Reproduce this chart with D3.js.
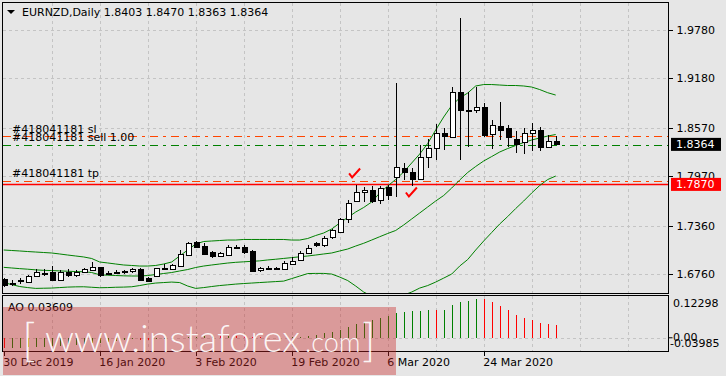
<!DOCTYPE html>
<html>
<head>
<meta charset="utf-8">
<style>
  body { margin: 0; background: #e6e6e6; }
  svg { display: block; font-family: "DejaVu Sans", sans-serif; font-size: 11px; }
  .grid { stroke: #c4c4c4; stroke-dasharray: 3,3; shape-rendering: crispEdges; }
  .frame { fill: none; stroke: #000; shape-rendering: crispEdges; }
  .axis path { display: none; }
  .axis line { stroke: #000; shape-rendering: crispEdges; }
  .axis text { fill: #000; font-family: "DejaVu Sans", sans-serif; font-size: 11px; }
</style>
</head>
<body>
<div id="chart"></div>
<script src="https://d3js.org/d3.v7.min.js"></script>
<script>
// EURNZD daily, 30 Dec 2019 .. 6 Apr 2020 (70 bars)
var open = [1.6699,1.6650,1.6685,1.6671,1.6731,1.6773,1.6785,1.6690,1.6785,1.6743,
  1.6785,1.6813,1.6847,1.6778,1.6783,1.6798,1.6792,1.6826,1.6718,1.6731,
  1.6833,1.6822,1.6866,1.7007,1.7159,1.7110,1.7032,1.6978,1.7007,1.7090,
  1.7101,1.7052,1.6805,1.6833,1.6835,1.6834,1.6896,1.6937,1.7019,1.7143,
  1.7114,1.7215,1.7286,1.7440,1.7669,1.7773,1.7801,1.7678,1.7834,1.7953,
  1.8069,1.8027,1.7937,1.8205,1.8316,1.8501,1.8452,1.9007,1.8786,1.8785,
  1.8826,1.8484,1.8591,1.8567,1.8427,1.8390,1.8501,1.8542,1.8336,1.8403];
var high = [1.6720,1.6690,1.6711,1.6752,1.6822,1.6822,1.6863,1.6813,1.6822,1.6810,
  1.6835,1.6916,1.6854,1.6804,1.6810,1.6816,1.6835,1.6835,1.6730,1.6841,
  1.6891,1.6891,1.7060,1.7160,1.7170,1.7143,1.7052,1.7032,1.7122,1.7122,
  1.7118,1.7060,1.6854,1.6860,1.6854,1.6928,1.6978,1.7052,1.7122,1.7163,
  1.7233,1.7316,1.7455,1.7677,1.7863,1.7834,1.7850,1.7850,1.7863,1.9126,
  1.8131,1.8069,1.8357,1.8427,1.8616,1.8563,1.9076,1.9921,1.9015,1.9076,
  1.8871,1.8665,1.8887,1.8604,1.8529,1.8563,1.8632,1.8583,1.8480,1.8470];
var low = [1.6604,1.6620,1.6640,1.6660,1.6723,1.6735,1.6685,1.6680,1.6727,1.6723,
  1.6773,1.6800,1.6727,1.6748,1.6760,1.6760,1.6773,1.6680,1.6662,1.6727,
  1.6816,1.6810,1.6855,1.6995,1.7090,1.6999,1.6958,1.6970,1.6986,1.7072,
  1.7013,1.6805,1.6785,1.6810,1.6810,1.6810,1.6875,1.6928,1.7007,1.7101,
  1.7094,1.7192,1.7270,1.7398,1.7657,1.7657,1.7644,1.7628,1.7678,1.7718,
  1.7925,1.7850,1.7925,1.8069,1.8172,1.8295,1.8440,1.8171,1.8328,1.8748,
  1.8459,1.8311,1.8418,1.8328,1.8254,1.8242,1.8286,1.8286,1.8316,1.8363];
var close = [1.6628,1.6646,1.6670,1.6740,1.6785,1.6777,1.6690,1.6792,1.6752,1.6785,
  1.6826,1.6854,1.6752,1.6773,1.6786,1.6780,1.6822,1.6690,1.6681,1.6835,
  1.6835,1.6875,1.7010,1.7151,1.7101,1.7015,1.6978,1.7019,1.7101,1.7094,
  1.7039,1.6805,1.6835,1.6837,1.6817,1.6904,1.6928,1.7019,1.7085,1.7118,
  1.7205,1.7301,1.7443,1.7637,1.7780,1.7801,1.7669,1.7822,1.7731,1.8081,
  1.8015,1.7937,1.8205,1.8316,1.8501,1.8459,1.9007,1.8780,1.8772,1.8822,
  1.8480,1.8600,1.8545,1.8459,1.8369,1.8501,1.8542,1.8336,1.8406,1.8364];

// Bollinger bands
var bbUpper = [1.7060,1.7054,1.7048,1.7041,1.7035,1.7029,1.7023,1.7011,1.6998,1.6986,
  1.6974,1.6955,1.6912,1.6900,1.6887,1.6875,1.6869,1.6862,1.6862,1.6869,
  1.6887,1.6912,1.6986,1.7060,1.7134,1.7165,1.7171,1.7177,1.7183,1.7183,
  1.7190,1.7190,1.7190,1.7190,1.7190,1.7190,1.7183,1.7183,1.7202,1.7239,
  1.7270,1.7319,1.7393,1.7461,1.7529,1.7585,1.7653,1.7764,1.7850,1.7931,
  1.8023,1.8134,1.8245,1.8375,1.8542,1.8702,1.8844,1.8937,1.8998,1.9085,
  1.9103,1.9103,1.9097,1.9091,1.9091,1.9085,1.9072,1.9041,1.9002,1.8973];
var bbMid = [1.6846,1.6838,1.6830,1.6823,1.6815,1.6809,1.6806,1.6802,1.6798,1.6794,
  1.6791,1.6782,1.6754,1.6749,1.6745,1.6741,1.6739,1.6739,1.6745,1.6757,
  1.6770,1.6782,1.6801,1.6819,1.6844,1.6862,1.6875,1.6887,1.6899,1.6908,
  1.6914,1.6920,1.6926,1.6937,1.6946,1.6956,1.6966,1.6976,1.6986,1.6998,
  1.7011,1.7023,1.7048,1.7072,1.7109,1.7143,1.7183,1.7224,1.7264,1.7301,
  1.7369,1.7443,1.7517,1.7591,1.7665,1.7733,1.7825,1.7924,1.8017,1.8091,
  1.8159,1.8214,1.8270,1.8313,1.8350,1.8387,1.8418,1.8443,1.8467,1.8486];
var bbLower = [1.6658,1.6633,1.6609,1.6596,1.6586,1.6588,1.6590,1.6596,1.6602,1.6605,
  1.6606,1.6600,1.6594,1.6596,1.6600,1.6602,1.6606,1.6621,1.6639,1.6652,
  1.6658,1.6664,1.6658,1.6615,1.6586,1.6596,1.6609,1.6621,1.6630,1.6639,
  1.6646,1.6652,1.6658,1.6664,1.6670,1.6676,1.6707,1.6738,1.6769,1.6771,
  1.6771,1.6763,1.6726,1.6683,1.6615,1.6541,1.6491,1.6467,1.6461,1.6467,
  1.6504,1.6541,1.6590,1.6621,1.6664,1.6713,1.6763,1.6862,1.6942,1.7060,
  1.7171,1.7276,1.7381,1.7473,1.7572,1.7665,1.7764,1.7856,1.7930,1.7973];

// Awesome Oscillator
var ao = [-0.0300,-0.0290,-0.0285,-0.0280,-0.0272,-0.0262,-0.0250,-0.0238,-0.0222,-0.0205,
  -0.0185,-0.0160,-0.0138,-0.0115,-0.0090,-0.0068,-0.0048,-0.0052,-0.0058,-0.0049,
  -0.0038,-0.0030,-0.0012,0.0010,0.0030,0.0042,0.0050,0.0048,0.0052,0.0050,
  0.0046,0.0030,0.0015,0.0008,0.0002,0.0006,0.0018,0.0035,0.0060,0.0090,
  0.0130,0.0180,0.0240,0.0310,0.0390,0.0460,0.0520,0.0590,0.0640,0.0720,
  0.0760,0.0765,0.0780,0.0820,0.0800,0.0810,0.0940,0.1050,0.1080,0.1140,
  0.1120,0.1030,0.0910,0.0810,0.0670,0.0590,0.0520,0.0440,0.0410,0.03609];

var priceTicks = [1.9780, 1.9180, 1.8570, 1.7970, 1.7360, 1.6760];
var dateIdx = [0, 12, 24, 36, 48, 60];
var dateLabels = ["30 Dec 2019", "16 Jan 2020", "3 Feb 2020", "19 Feb 2020", "6 Mar 2020", "24 Mar 2020"];

var ticket = "#418041181";
var slPrice = 1.8470, entryPrice = 1.8362, tpPrice = 1.7916;
var hLinePrice = 1.7870, bidPrice = 1.8364;
var checkIdx = [43.8, 50.9];
var checkPrice = [1.8005, 1.7770];

var W = 726, H = 376;
var left = 2.5, right = 668.5, mainTop = 2.5, mainBot = 293.5, indTop = 295.5, indBot = 351.5;

var svg = d3.select('#chart').append('svg').attr('width', W).attr('height', H);

var x = d3.scaleLinear().domain([0, 69]).range([3.7, 555.7]);
var y = d3.scaleLinear().domain([1.978, 1.676]).range([29.7, 274.3]);
var yAO = d3.scaleLinear().domain([-0.03985, 0.12298]).range([indBot, indTop]);

var defs = svg.append('defs');
defs.append('clipPath').attr('id', 'clipMain').append('rect')
  .attr('x', left).attr('y', mainTop).attr('width', right - left).attr('height', mainBot - mainTop);
defs.append('clipPath').attr('id', 'clipInd').append('rect')
  .attr('x', left).attr('y', indTop).attr('width', right - left).attr('height', indBot - indTop);

// vertical grid every 6 bars
var vgrid = d3.range(6, 84, 6).filter(function(i) { return x(i) < right; });
var main = svg.append('g').attr('clip-path', 'url(#clipMain)');
main.selectAll('.vg').data(vgrid).enter().append('line').attr('class', 'grid')
  .attr('x1', function(d) { return Math.round(x(d)) + 0.5; }).attr('x2', function(d) { return Math.round(x(d)) + 0.5; })
  .attr('y1', mainTop).attr('y2', mainBot);
main.selectAll('.hg').data(priceTicks).enter().append('line').attr('class', 'grid')
  .attr('x1', left).attr('x2', right)
  .attr('y1', function(d) { return Math.round(y(d)) + 0.5; }).attr('y2', function(d) { return Math.round(y(d)) + 0.5; });

// order lines
function orderLine(p, col) {
  main.append('line').attr('x1', left).attr('x2', right)
    .attr('y1', Math.round(y(p)) + 0.5).attr('y2', Math.round(y(p)) + 0.5)
    .attr('stroke', col).attr('stroke-dasharray', '8,5,3,5').style('shape-rendering', 'crispEdges');
}
orderLine(slPrice, '#ff4500');
orderLine(entryPrice, '#008000');
orderLine(tpPrice, '#ff4500');
main.append('line').attr('x1', left).attr('x2', right)
  .attr('y1', y(hLinePrice)).attr('y2', y(hLinePrice))
  .attr('stroke', '#ff0000').attr('stroke-width', 1.5);

// order labels
var lbl = svg.append('g').attr('fill', '#000');
lbl.append('text').attr('x', 12).attr('y', y(slPrice) - 3).text(ticket + ' sl');
lbl.append('text').attr('x', 12).attr('y', y(entryPrice) - 4).text(ticket + ' sell 1.00');
lbl.append('text').attr('x', 12).attr('y', y(tpPrice) - 4).text(ticket + ' tp');

// bollinger bands
var bandLine = function(arr) {
  return d3.line().x(function(d, i) { return x(i); }).y(function(d) { return y(d); })(arr);
};
[bbUpper, bbMid, bbLower].forEach(function(b) {
  main.append('path').attr('d', bandLine(b)).attr('fill', 'none').attr('stroke', '#008000').attr('stroke-width', 1);
});

// candles
var idx = d3.range(open.length);
var cg = main.append('g').style('shape-rendering', 'crispEdges');
cg.selectAll('.wick').data(idx).enter().append('line')
  .attr('x1', function(i) { return Math.round(x(i)) + 0.5; })
  .attr('x2', function(i) { return Math.round(x(i)) + 0.5; })
  .attr('y1', function(i) { return y(high[i]); })
  .attr('y2', function(i) { return y(low[i]); })
  .attr('stroke', '#000');
cg.selectAll('.body').data(idx).enter().append('rect')
  .attr('x', function(i) { return Math.round(x(i)) - 2 + 0.5; })
  .attr('width', 5)
  .attr('y', function(i) { return Math.round(y(Math.max(open[i], close[i]))) + 0.5; })
  .attr('height', function(i) { return Math.max(1, Math.round(Math.abs(y(open[i]) - y(close[i])))); })
  .attr('fill', function(i) { return close[i] >= open[i] ? '#fff' : '#000'; })
  .attr('stroke', '#000');

// trade marks
svg.selectAll('.chk').data(checkIdx).enter().append('path')
  .attr('d', function(d, k) {
    var cx = x(d), cy = y(checkPrice[k]);
    return 'M' + (cx - 5) + ',' + (cy) + 'L' + (cx - 2) + ',' + (cy + 4) + 'L' + (cx + 6) + ',' + (cy - 5);
  })
  .attr('fill', 'none').attr('stroke', '#ff0000').attr('stroke-width', 2);

// AO panel
var ind = svg.append('g').attr('clip-path', 'url(#clipInd)');
ind.selectAll('.vg').data(vgrid).enter().append('line').attr('class', 'grid')
  .attr('x1', function(d) { return Math.round(x(d)) + 0.5; }).attr('x2', function(d) { return Math.round(x(d)) + 0.5; })
  .attr('y1', indTop).attr('y2', indBot);
ind.append('line').attr('class', 'grid').attr('x1', left).attr('x2', right)
  .attr('y1', Math.round(yAO(0)) + 0.5).attr('y2', Math.round(yAO(0)) + 0.5);
ind.selectAll('.aob').data(idx).enter().append('line')
  .attr('x1', function(i) { return Math.round(x(i)) + 0.5; })
  .attr('x2', function(i) { return Math.round(x(i)) + 0.5; })
  .attr('y1', yAO(0))
  .attr('y2', function(i) { return yAO(ao[i]); })
  .attr('stroke', function(i) { return (i > 0 && ao[i] < ao[i - 1]) || i === 0 ? '#ff0000' : '#008000'; })
  .style('shape-rendering', 'crispEdges');

// frames
svg.append('rect').attr('class', 'frame').attr('x', left).attr('y', mainTop).attr('width', right - left).attr('height', mainBot - mainTop);
svg.append('rect').attr('class', 'frame').attr('x', left).attr('y', indTop).attr('width', right - left).attr('height', indBot - indTop);

// right price axis
svg.append('g').attr('class', 'axis').attr('transform', 'translate(' + right + ',0)')
  .call(d3.axisRight(y).tickValues(priceTicks).tickFormat(d3.format('.4f')).tickSize(4).tickPadding(4));

// price tags
function tag(p, bg) {
  var g = svg.append('g').attr('transform', 'translate(670,' + y(p) + ')');
  g.append('rect').attr('x', 1).attr('y', -6.5).attr('width', 50).attr('height', 13).attr('fill', bg);
  g.append('text').attr('x', 6).attr('dy', '0.35em').attr('fill', '#fff').text(d3.format('.4f')(p));
}
tag(bidPrice, '#000');
tag(hLinePrice, '#ff0000');

// AO axis labels
var aoAx = svg.append('g').attr('fill', '#000');
aoAx.append('text').attr('x', 673).attr('y', indTop + 8).attr('dy', '0.35em').text('0.12298');
aoAx.append('text').attr('x', 673).attr('y', yAO(0) - 1).attr('dy', '0.35em').text('0.00');
aoAx.append('text').attr('x', 670).attr('y', yAO(0) + 5).attr('dy', '0.35em').text('-0.03985');
svg.append('line').attr('x1', right).attr('x2', right + 4).attr('y1', yAO(0)).attr('y2', yAO(0)).attr('stroke', '#000');

// time axis
svg.append('g').attr('class', 'axis').attr('transform', 'translate(0,' + indBot + ')')
  .call(d3.axisBottom(x).tickValues(dateIdx).tickFormat(function(d, i) { return dateLabels[i]; }).tickSize(4).tickPadding(3))
  .selectAll('text').attr('text-anchor', 'start').attr('dx', '-1');

// header
svg.append('path').attr('d', 'M7,10L15,10L11,14Z').attr('fill', '#000');
svg.append('text').attr('x', 22).attr('y', 16).text('EURNZD,Daily  ' +
  [open[69], high[69], low[69], close[69]].map(d3.format('.4f')).join(' '));
svg.append('text').attr('x', 8).attr('y', 311).text('AO ' + d3.format('.5f')(ao[69]));

// watermark
var wm = svg.append('g');
wm.append('rect').attr('x', 3).attr('y', 307).attr('width', 393).attr('height', 68).attr('fill', 'rgba(200,40,40,0.4)');
var wt = wm.append('g').attr('fill', '#fff').attr('fill-opacity', 0.92).style('font-family', 'Lato, "Liberation Sans", sans-serif').style('font-weight', 300);
wt.append('text').attr('x', 22).attr('y', 356).style('font-size', '46px').text('[');
wt.append('text').attr('x', 45).attr('y', 352).style('font-size', '38px').text('www.instaforex');
wt.append('text').attr('x', 305).attr('y', 352).style('font-size', '27px').text('.com');
wt.append('text').attr('x', 362).attr('y', 356).style('font-size', '46px').text(']');
</script>
</body>
</html>
